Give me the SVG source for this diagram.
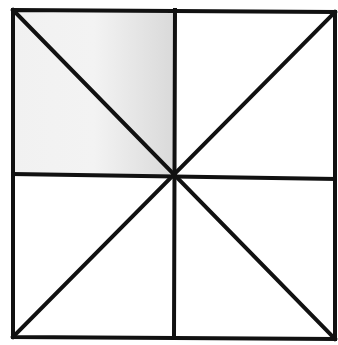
<svg xmlns="http://www.w3.org/2000/svg" width="338" height="345" viewBox="0 0 338 345">
<defs>
<linearGradient id="shade" x1="0" y1="0" x2="1" y2="0">
<stop offset="0" stop-color="#f1f1f1"/>
<stop offset="0.5" stop-color="#f3f3f3"/>
<stop offset="1" stop-color="#d9d9d9"/>
</linearGradient>
<style>.l{stroke:#111;stroke-width:4;fill:none;stroke-linecap:square}</style>
</defs>
<rect width="338" height="345" fill="#fff"/>
<polygon points="13,10 175,10 175,176 13,174" fill="url(#shade)"/>
<g id="lines">
<polygon class="l" points="13,10 335,12 335,339 13,337"/>
<line class="l" x1="175" y1="10" x2="174" y2="338"/>
<line class="l" x1="13" y1="174" x2="335" y2="179"/>
<line class="l" x1="13" y1="10" x2="335" y2="339"/>
<line class="l" x1="13" y1="337" x2="335" y2="12"/>
</g>
</svg>
